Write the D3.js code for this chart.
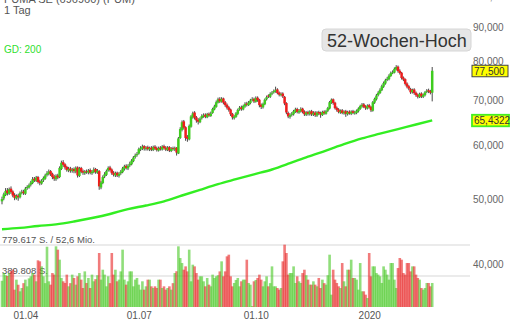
<!DOCTYPE html>
<html><head><meta charset="utf-8">
<script src="https://cdn.jsdelivr.net/npm/d3@7"></script>
<style>html,body{margin:0;padding:0;background:#fff;overflow:hidden}svg{display:block;font-family:"Liberation Sans",Arial,sans-serif}</style>
</head><body><svg id="c" width="510" height="320"></svg>
<script>
// ---- data ----
const open = [
49.6,50.1,50.7,51.5,50.9,51.8,51.3,50.7,50.1,50.6,
50.3,51.1,51.3,50.9,51.9,52.0,52.5,52.8,53.6,53.2,
53.9,53.1,52.7,53.3,53.6,54.3,54.5,55.0,54.5,54.0,
53.5,54.2,53.9,55.4,56.7,56.3,55.8,55.1,55.5,55.0,
55.4,54.9,55.7,54.1,55.6,55.0,54.6,55.0,54.7,55.2,
54.6,54.8,55.4,54.7,55.0,52.0,52.8,54.0,54.3,55.1,
55.7,55.3,54.7,54.2,54.7,54.1,54.6,54.8,55.4,56.0,
55.5,56.1,56.3,56.9,57.7,58.1,58.4,59.2,59.4,59.9,
59.3,59.7,59.2,59.6,59.1,59.8,59.5,59.0,59.6,59.2,
59.9,59.6,59.1,59.7,58.9,59.5,59.2,59.6,58.4,61.6,
63.3,65.2,63.9,61.8,61.3,64.0,66.1,67.2,66.1,65.5,
65.0,65.9,66.3,66.7,66.1,66.9,66.4,67.1,67.9,68.5,
69.5,70.4,69.7,70.5,69.6,69.0,68.4,67.9,66.9,65.9,
66.2,66.9,67.9,68.4,67.9,68.6,69.3,68.9,69.4,70.1,
70.4,69.7,70.7,70.2,69.0,68.4,69.1,70.3,71.2,70.9,
71.7,72.0,72.2,72.7,71.9,71.3,71.7,70.9,69.4,67.1,
66.2,66.7,66.8,67.4,68.0,67.2,67.5,68.1,67.4,66.7,
67.3,66.8,67.5,66.7,67.2,66.5,67.3,67.1,66.6,67.4,
66.9,67.6,68.1,69.5,70.3,69.5,68.3,67.9,67.2,67.7,
67.0,67.5,66.8,67.4,66.9,67.5,67.0,67.1,67.5,68.0,
68.6,69.1,68.6,68.1,68.9,68.5,67.6,69.5,70.3,71.3,
71.8,72.5,73.4,74.2,75.1,75.3,76.1,77.0,77.0,77.9,
78.6,77.5,77.0,75.7,75.3,74.2,73.5,72.8,72.0,72.7,
71.9,71.4,70.8,71.7,70.9,71.3,72.1,72.5,72.3,71.9];
const high = [
50.4,51.1,51.9,51.9,52.0,52.2,51.5,51.0,50.8,50.9,
51.3,51.6,51.6,52.1,52.4,52.7,53.2,53.9,53.9,54.1,
54.1,53.4,53.5,54.0,54.5,55.0,55.3,55.2,54.7,54.3,
54.4,54.5,55.9,57.0,57.1,56.5,56.0,55.8,55.8,55.6,
55.7,55.9,55.9,55.8,55.8,55.3,55.2,55.3,55.4,55.5,
55.2,55.7,55.6,55.4,55.2,53.2,54.2,54.8,55.3,55.9,
56.0,55.5,55.0,54.9,54.9,54.8,55.2,55.8,56.2,56.3,
56.3,56.8,57.3,57.9,58.4,58.7,59.6,59.9,60.2,60.1,
59.9,60.0,59.8,59.9,60.0,60.1,59.8,59.8,59.9,60.1,
60.2,59.9,59.9,59.9,59.7,59.8,59.8,59.7,61.8,63.9,
65.4,65.5,64.1,62.2,64.5,66.6,67.4,67.5,66.4,65.9,
66.1,66.8,67.0,67.0,67.1,67.2,67.4,68.3,69.0,70.0,
70.7,70.8,70.8,70.7,69.9,69.3,68.7,68.1,67.1,66.6,
67.3,68.1,68.7,68.8,69.0,69.6,69.7,69.9,70.4,70.8,
70.7,71.0,71.0,70.4,69.3,69.5,70.5,71.2,71.5,72.0,
72.3,72.7,73.4,73.0,72.2,72.0,72.0,71.1,69.6,67.4,
67.0,67.3,67.8,68.3,68.3,68.0,68.4,68.3,67.7,67.5,
67.6,67.7,67.8,67.5,67.5,67.5,67.6,67.4,67.6,67.7,
67.8,68.5,69.9,70.5,70.5,69.7,68.6,68.2,67.9,68.0,
67.7,67.8,67.6,67.7,67.7,67.8,67.6,67.9,68.4,69.0,
69.4,69.4,68.9,69.1,69.2,68.7,69.9,70.7,71.6,72.3,
73.0,73.9,74.7,75.4,75.9,76.6,77.3,77.6,78.4,79.0,
78.9,77.9,77.2,76.0,75.5,74.5,73.8,73.1,72.9,73.0,
72.2,71.7,71.9,72.0,71.7,72.3,72.8,72.9,72.6,78.5];
const low = [
49.1,49.8,50.5,50.6,50.7,50.9,50.3,49.8,49.9,49.7,
50.1,50.8,50.7,50.7,51.6,51.8,52.2,52.6,53.0,53.0,
52.7,52.4,52.5,53.0,53.4,54.0,54.2,54.1,53.5,53.2,
53.2,53.5,53.7,55.2,55.8,55.3,54.9,54.8,54.7,54.7,
54.6,54.6,53.8,53.9,54.6,54.3,54.3,54.5,54.4,54.4,
54.3,54.6,54.5,54.5,51.6,51.7,52.6,53.7,54.1,54.9,
54.9,54.3,54.0,53.9,53.9,53.8,54.3,54.6,55.1,55.3,
55.2,55.8,56.1,56.7,57.4,57.8,58.2,58.9,59.1,59.0,
59.0,59.0,58.9,58.9,58.9,59.1,58.8,58.8,59.0,59.0,
59.2,58.9,58.9,58.7,58.7,59.0,58.9,58.0,58.3,61.4,
63.0,63.4,61.0,60.8,61.1,63.8,65.8,65.6,64.9,64.5,
64.8,65.6,66.0,65.9,65.9,66.2,66.2,66.9,67.7,68.3,
69.3,69.4,69.5,69.1,68.5,67.9,67.4,66.4,65.6,65.6,
66.0,66.6,67.6,67.6,67.7,68.3,68.6,68.7,69.1,69.8,
69.4,69.5,69.7,68.4,68.0,68.1,68.9,70.0,70.6,70.6,
71.3,71.7,71.9,71.5,71.0,71.0,70.6,68.9,66.8,65.9,
65.8,66.3,66.5,67.1,67.0,66.9,67.2,67.0,66.4,66.4,
66.5,66.5,66.4,66.4,66.2,66.2,66.6,66.0,66.4,66.7,
66.7,67.3,67.9,69.2,69.0,67.9,67.4,67.0,66.9,66.8,
66.7,66.2,66.5,66.7,66.6,66.8,66.7,66.8,67.2,67.8,
68.3,68.2,67.8,67.9,68.1,67.3,67.4,69.2,70.0,71.0,
71.6,72.3,73.1,73.9,74.8,75.0,75.9,76.6,76.8,77.6,
77.0,76.5,75.2,74.8,73.7,73.0,72.5,71.6,71.7,71.4,
70.9,70.5,70.6,70.6,70.6,71.0,71.8,71.8,71.5,69.8];
const close = [
50.0,50.8,51.4,51.0,51.7,51.2,50.6,50.2,50.5,50.3,
51.0,51.2,51.0,51.8,52.1,52.4,52.9,53.5,53.3,53.8,
53.0,52.8,53.2,53.7,54.2,54.6,54.9,54.4,53.9,53.6,
54.1,53.8,55.6,56.6,56.2,55.7,55.2,55.4,55.1,55.3,
55.0,55.6,54.2,55.5,54.9,54.7,54.9,54.8,55.1,54.7,
54.9,55.3,54.8,55.1,52.2,52.9,53.9,54.4,55.0,55.6,
55.2,54.6,54.3,54.6,54.2,54.5,54.9,55.5,55.9,55.6,
56.0,56.4,57.0,57.6,58.0,58.3,59.3,59.5,59.8,59.4,
59.6,59.3,59.5,59.2,59.7,59.4,59.1,59.5,59.3,59.8,
59.5,59.2,59.6,59.0,59.4,59.3,59.5,58.6,61.5,63.5,
65.0,63.8,61.6,61.4,64.2,66.3,67.0,66.0,65.4,65.1,
65.8,66.4,66.6,66.2,66.8,66.5,67.0,68.0,68.6,69.6,
70.3,69.8,70.4,69.5,68.9,68.3,67.8,66.8,66.1,66.3,
67.0,67.8,68.3,68.0,68.7,69.2,69.0,69.5,70.0,70.3,
69.8,70.6,70.1,68.9,68.5,69.2,70.2,70.8,71.0,71.6,
71.9,72.3,72.6,71.8,71.4,71.6,71.0,69.3,67.2,66.3,
66.6,66.9,67.5,67.9,67.3,67.6,68.0,67.3,66.8,67.2,
66.9,67.4,66.8,67.1,66.6,67.2,67.0,66.7,67.3,67.0,
67.5,68.2,69.6,70.2,69.4,68.2,67.8,67.3,67.6,67.1,
67.4,66.9,67.3,67.0,67.4,67.1,67.2,67.6,68.1,68.7,
69.0,68.5,68.2,68.8,68.4,67.7,69.6,70.4,71.2,71.9,
72.6,73.5,74.3,75.0,75.4,76.2,76.9,77.1,78.0,78.5,
77.4,76.9,75.6,75.2,74.1,73.4,72.9,72.0,72.6,71.8,
71.3,70.9,71.6,71.0,71.4,72.0,72.4,72.2,71.9,77.5];
// volume in thousand shares
const volume = [
330,427,400,390,427,450,469,218,344,280,
197,239,300,344,260,360,386,427,407,323,
587,574,511,386,300,758,323,281,427,407,
763,721,595,365,323,302,407,260,300,407,
365,281,386,427,344,239,448,302,365,239,
407,323,350,400,679,344,469,407,260,386,
300,679,407,469,323,344,448,721,344,281,
323,448,448,260,344,365,281,218,323,218,
260,344,344,260,239,260,239,344,344,239,
260,218,239,260,218,300,427,450,763,616,
553,469,511,448,721,323,532,511,427,344,
386,386,323,260,365,281,260,407,365,386,
400,448,574,386,448,637,658,386,260,302,
340,365,260,323,344,344,595,302,281,12,
323,340,365,407,344,260,323,386,260,300,
511,260,260,239,218,239,574,784,679,407,
427,427,511,302,386,323,302,427,469,400,
344,281,281,323,281,260,365,239,344,300,
281,400,658,155,469,344,302,260,239,553,
323,260,469,469,595,365,365,344,218,553,
197,197,155,113,679,386,511,511,427,407,
386,302,511,469,407,344,553,553,344,239,
490,616,595,427,407,553,553,448,511,511,
407,365,344,239,218,239,302,302,260,302];
const gd200Idx = [0,10,20,30,40,50,60,70,80,90,100,110,120,130,140,150,160,170,180,190,200,210,220,230,239];
const gd200 = [45.1,45.3,45.6,45.85,46.3,46.85,47.5,48.3,48.9,49.6,50.6,51.6,52.6,53.5,54.4,55.3,56.5,57.8,59.0,60.3,61.5,62.5,63.5,64.5,65.4322];
const priceTicks = [40,50,60,70,80,90,100];
const priceTickLabels = ["40,000","50,000","60,000","70,000","80,000","90,000","100,000"];
const xTickIdx = [13,76,141,204];
const xTickLabels = ["01.04","01.07","01.10","2020"];
const volLines = [779.617, 389.808];
const volLineLabels = ["779.617 S. / 52,6 Mio.","389.808 S."];
const titleLines = ["PUMA SE (696960) (PUM)","1 Tag"];
const gdTitle = "GD: 200";
const badgeText = "52-Wochen-Hoch";
const lastPrice = 77.5, lastPriceLabel = "77,500";
const gdLast = 65.4322, gdLastLabel = "65,4322";

// ---- drawing ----
const svg = d3.select("#c");
const n = close.length;
const x = d3.scaleLinear().domain([0, n - 1]).range([2, 432.2]);
const y = d3.scaleLog().domain([50, 90]).range([199, 27]);
const yv = d3.scaleLinear().domain([0, 779.617]).range([307, 245]);
const UP = "#3fcc1f", DOWN = "#ee1c1c";

// volume grid lines
svg.append("g").selectAll("line").data(volLines).join("line")
  .attr("x1", 0).attr("x2", 470)
  .attr("y1", d => yv(d)).attr("y2", d => yv(d))
  .attr("stroke", "#e4e4e4").attr("stroke-width", 1.5);
svg.append("g").selectAll("text").data(volLines).join("text")
  .attr("x", 2).attr("y", d => yv(d) - 2.5)
  .attr("font-size", 9.5).attr("fill", "#555")
  .text((d, i) => volLineLabels[i]);

// volume bars
svg.append("g").selectAll("rect").data(volume).join("rect")
  .attr("x", (d, i) => x(i) - 1.3).attr("width", 2.6)
  .attr("y", d => yv(d)).attr("height", d => yv(0) - yv(d))
  .attr("fill", (d, i) => close[i] >= open[i] ? "#4cc92a" : "#e82a2a")
  .attr("fill-opacity", 0.62);

// GD 200 line
svg.append("path")
  .datum(gd200.map((v, k) => [gd200Idx[k], v]))
  .attr("fill", "none").attr("stroke", "#33ee22").attr("stroke-width", 2.4)
  .attr("d", d3.line().x(d => x(d[0])).y(d => y(d[1])).curve(d3.curveMonotoneX));

// candles
const cg = svg.append("g");
cg.selectAll("line").data(close).join("line")
  .attr("x1", (d, i) => x(i)).attr("x2", (d, i) => x(i))
  .attr("y1", (d, i) => y(high[i])).attr("y2", (d, i) => y(low[i]))
  .attr("stroke", "#333").attr("stroke-width", 0.9);
cg.selectAll("rect").data(close).join("rect")
  .attr("x", (d, i) => x(i) - 1.25).attr("width", 2.5)
  .attr("y", (d, i) => y(Math.max(open[i], close[i])))
  .attr("height", (d, i) => Math.max(1, y(Math.min(open[i], close[i])) - y(Math.max(open[i], close[i]))))
  .attr("fill", (d, i) => close[i] >= open[i] ? UP : DOWN);

// header texts
svg.append("g").selectAll("text").data(titleLines).join("text")
  .attr("x", 4).attr("y", (d, i) => 3 + i * 10.5)
  .attr("font-size", 11).attr("fill", "#555").text(d => d);
svg.append("text").attr("x", 4).attr("y", 53).attr("font-size", 10)
  .attr("fill", "#2ee02e").text(gdTitle);

// 52-week-high badge
svg.append("rect").attr("x", 322).attr("y", 29).attr("width", 149).attr("height", 22)
  .attr("rx", 4).attr("fill", "#e6e6e6").attr("stroke", "#d6d6d6");
svg.append("text").attr("x", 327).attr("y", 46.5).attr("font-size", 18)
  .attr("fill", "#333").text(badgeText);

// right price axis
const ax = svg.append("g").attr("transform", "translate(473,0)")
  .call(d3.axisRight(y).tickValues(priceTicks).tickFormat((d, i) => priceTickLabels[i]).tickSize(0).tickPadding(0));
ax.select(".domain").remove();
ax.selectAll("text").attr("font-size", 10).attr("fill", "#666")
  .attr("font-family", "'Liberation Sans',Arial,sans-serif");

// bottom time axis
const bx = svg.append("g").attr("transform", "translate(0,312)")
  .call(d3.axisBottom(x).tickValues(xTickIdx).tickFormat((d, i) => xTickLabels[i]).tickSize(0).tickPadding(0));
bx.select(".domain").remove();
bx.selectAll("text").attr("font-size", 10).attr("fill", "#555")
  .attr("font-family", "'Liberation Sans',Arial,sans-serif");

// value badges
function badge(v, label, stroke, sw) {
  const yy = y(v);
  svg.append("rect").attr("x", 472).attr("y", yy - 5.5).attr("width", 36 + (label.length > 6 ? 1 : 0)).attr("height", 11.5)
    .attr("fill", "#ffff00").attr("stroke", stroke).attr("stroke-width", sw);
  svg.append("text").attr("x", 474).attr("y", yy + 4).attr("font-size", 10).attr("fill", "#333").text(label);
}
badge(lastPrice, lastPriceLabel, "#444", 1);
badge(gdLast, gdLastLabel, "#44ee22", 1.8);
</script></body></html>
